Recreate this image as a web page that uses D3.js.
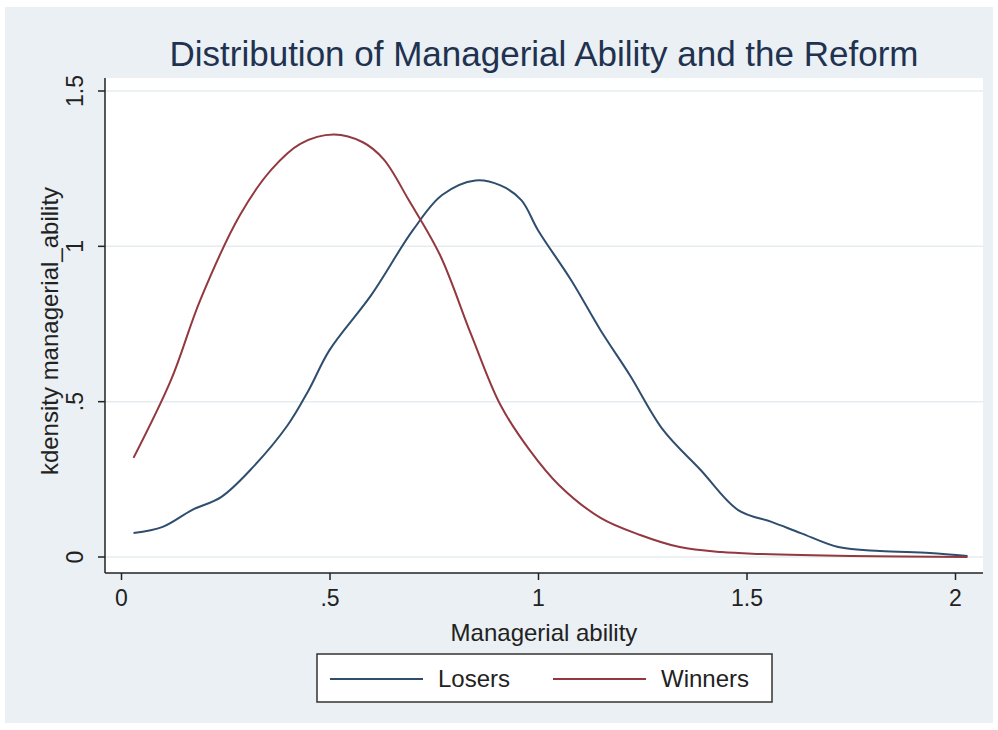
<!DOCTYPE html>
<html>
<head>
<meta charset="utf-8">
<script src="https://cdn.jsdelivr.net/npm/d3@7"></script>
<style>
  body { margin: 0; background: #ffffff; }
  svg { display: block; font-family: "Liberation Sans", Arial, sans-serif; }
</style>
</head>
<body>
<div class="container"></div>
<script>
// kdensity estimates
const loserX = [0.03, 0.1, 0.17, 0.24, 0.31, 0.4, 0.45, 0.5, 0.6, 0.7, 0.77, 0.85, 0.91, 0.96, 1.0, 1.08, 1.15, 1.22, 1.3, 1.39, 1.48, 1.56, 1.63, 1.72, 1.82, 1.94, 2.03];
const loserY = [0.077, 0.097, 0.151, 0.193, 0.28, 0.425, 0.537, 0.666, 0.843, 1.052, 1.165, 1.212, 1.196, 1.149, 1.052, 0.89, 0.73, 0.586, 0.409, 0.28, 0.151, 0.113, 0.077, 0.032, 0.019, 0.013, 0.003];
const winnerX = [0.03, 0.12, 0.19, 0.285, 0.36, 0.43, 0.51, 0.58, 0.63, 0.69, 0.765, 0.84, 0.91, 0.98, 1.05, 1.15, 1.245, 1.34, 1.44, 1.53, 1.75, 2.03];
const winnerY = [0.319, 0.57, 0.827, 1.1, 1.246, 1.33, 1.36, 1.335, 1.28, 1.149, 0.972, 0.715, 0.489, 0.344, 0.232, 0.126, 0.071, 0.032, 0.016, 0.01, 0.003, 0.0];

const xTicks = [0, 0.5, 1, 1.5, 2];
const yTicks = [0, 0.5, 1, 1.5];
const seriesNames = ["Losers", "Winners"];

const w = 998, h = 730;
const plot = { left: 105, right: 983, top: 78, bottom: 573 };

const xScale = d3.scaleLinear().domain([0, 2]).range([121, 955]);
const yScale = d3.scaleLinear().domain([0, 1.5]).range([557, 91]);

const fmt = (d) => d === 0 ? "0" : (d < 1 ? String(d).replace(/^0/, "") : String(d));

const svg = d3.select(".container").append("svg")
  .attr("width", w).attr("height", h);

/* graph region */
svg.append("rect").attr("x", 5).attr("y", 7).attr("width", 988).attr("height", 716)
  .attr("fill", "#eaf0f3");

/* plot region */
svg.append("rect")
  .attr("x", plot.left).attr("y", plot.top)
  .attr("width", plot.right - plot.left).attr("height", plot.bottom - plot.top)
  .attr("fill", "#ffffff");

/* gridlines */
svg.append("g").selectAll("line").data(yTicks).enter().append("line")
  .attr("x1", plot.left).attr("x2", plot.right)
  .attr("y1", (d) => yScale(d)).attr("y2", (d) => yScale(d))
  .attr("stroke", "#e6edf0").attr("stroke-width", 1.5);

/* title */
svg.append("text")
  .attr("x", 544).attr("y", 66)
  .attr("text-anchor", "middle")
  .attr("fill", "#1f3250")
  .style("font-size", "35px")
  .text("Distribution of Managerial Ability and the Reform");

/* axes */
const xAxis = d3.axisBottom(xScale).tickValues(xTicks).tickFormat(fmt).tickSize(7).tickPadding(10).tickSizeOuter(0);
const yAxis = d3.axisLeft(yScale).tickValues(yTicks).tickFormat(fmt).tickSize(7).tickPadding(6).tickSizeOuter(0);

const gx = svg.append("g").attr("transform", `translate(0,${plot.bottom})`).call(xAxis);
gx.select(".domain").attr("d", `M${plot.left},0H${plot.right}`);
gx.selectAll("text").style("font-size", "23px").attr("fill", "#222");

const gy = svg.append("g").attr("transform", `translate(${plot.left},0)`).call(yAxis);
gy.select(".domain").attr("d", `M0,${plot.top}V${plot.bottom}`);
gy.selectAll("text")
  .style("font-size", "23px").attr("fill", "#222")
  .attr("text-anchor", "middle")
  .attr("x", 0).attr("dy", 0).attr("y", 0)
  .attr("transform", (d) => `translate(-22,${yScale(d)}) rotate(-90)`);
gy.selectAll(".tick").attr("transform", null);
gy.selectAll(".tick line").attr("transform", (d) => `translate(0,${yScale(d)})`);

svg.selectAll(".domain, .tick line").attr("stroke", "#222").attr("stroke-width", 1.5);

/* axis titles */
svg.append("text")
  .attr("x", 544).attr("y", 641)
  .attr("text-anchor", "middle").attr("fill", "#222")
  .style("font-size", "24px")
  .text("Managerial ability");

svg.append("text")
  .attr("transform", "translate(58,331) rotate(-90)")
  .attr("text-anchor", "middle").attr("fill", "#222")
  .style("font-size", "24px")
  .text("kdensity managerial_ability");

/* curves */
const line = d3.line()
  .x((d) => xScale(d[0]))
  .y((d) => yScale(d[1]))
  .curve(d3.curveCatmullRom.alpha(0.5));

const colors = ["#2f4e6e", "#93383f"];
const series = [
  d3.zip(loserX, loserY),
  d3.zip(winnerX, winnerY)
];

svg.append("g").selectAll("path").data(series).enter().append("path")
  .attr("d", line)
  .attr("fill", "none")
  .attr("stroke", (d, i) => colors[i])
  .attr("stroke-width", 2);

/* legend */
const legend = svg.append("g");
legend.append("rect")
  .attr("x", 317).attr("y", 654).attr("width", 455).attr("height", 48)
  .attr("fill", "#ffffff").attr("stroke", "#333").attr("stroke-width", 1.5);

const lx = [330, 553];
seriesNames.forEach((name, i) => {
  legend.append("line")
    .attr("x1", lx[i]).attr("x2", lx[i] + 93)
    .attr("y1", 679).attr("y2", 679)
    .attr("stroke", colors[i]).attr("stroke-width", 2);
  legend.append("text")
    .attr("x", lx[i] + 108).attr("y", 687)
    .attr("fill", "#222")
    .style("font-size", "24px")
    .text(name);
});
</script>
</body>
</html>
